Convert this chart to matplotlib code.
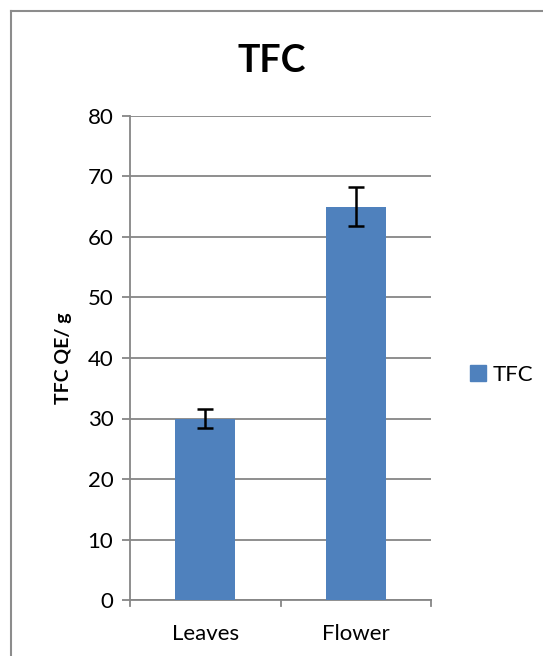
import matplotlib
matplotlib.use("Agg")
import matplotlib.pyplot as plt
from matplotlib.lines import Line2D

plt.rcParams['font.family'] = ['Lato', 'DejaVu Sans']

categories = ["Leaves", "Flower"]
values = [30.0, 65.0]
errors = [1.5, 3.2]
series_name = "TFC"
title = "TFC"
ylabel = "TFC QE/ g"
yticks = [0, 10, 20, 30, 40, 50, 60, 70, 80]

W, H = 543, 656
fig = plt.figure(figsize=(W/100, H/100), dpi=100)
fig.patch.set_facecolor("white")

# plot area in pixels: x 130..431, y 116..600
ax = fig.add_axes([130/W, 1-600/H, (431-130)/W, (600-116)/H])
grid_c = "#868686"
x = list(range(len(categories)))
ax.bar(x, values, width=0.4, color="#4F81BD", zorder=3, label=series_name)
ax.errorbar(x, values, yerr=errors, fmt="none", ecolor="black", elinewidth=1.8,
            capsize=6, capthick=1.8, zorder=4)
ax.set_xlim(-0.5, len(categories)-0.5)
ax.set_ylim(0, 80)
ax.set_yticks(yticks)
ax.set_yticklabels([str(t) for t in yticks], fontsize=16)
ax.set_xticks(x)
ax.set_xticklabels(categories, fontsize=16)
ax.yaxis.grid(True, color=grid_c, linewidth=1.3, zorder=0)
ax.set_axisbelow(True)
for s in ["top", "right"]:
    ax.spines[s].set_visible(False)
for s in ["left", "bottom"]:
    ax.spines[s].set_color(grid_c)
    ax.spines[s].set_linewidth(1.3)
ax.tick_params(axis="y", length=6, color=grid_c, width=1.3, pad=6, direction="out")
ax.tick_params(axis="x", length=0, pad=17)
# category boundary tick marks on x
for b in [-0.5, 0.5, 1.5]:
    ax.plot([b, b], [0, -1.0], color=grid_c, linewidth=1.3, clip_on=False, zorder=5)

fig.text(272/W, 1-61/H, title, ha="center", va="center", fontsize=27, fontweight="bold")
fig.text(64/W, 1-358/H, ylabel, ha="center", va="center", rotation=90,
         fontsize=14, fontweight="bold")

handles = [plt.Rectangle((0, 0), 1, 1, color="#4F81BD")]
leg = fig.legend(handles, [series_name], loc="center left",
                 bbox_to_anchor=(470/W, 1-375/H), frameon=False, fontsize=16,
                 handlelength=0.7, handleheight=0.7, handletextpad=0.3,
                 borderpad=0, borderaxespad=0)

# partial outer frame (left and top)
fig.add_artist(Line2D([11/W, 11/W], [0, 1-11/H], transform=fig.transFigure,
                      color="#8c8c8c", linewidth=1.5))
fig.add_artist(Line2D([11/W, 1], [1-11/H, 1-11/H], transform=fig.transFigure,
                      color="#8c8c8c", linewidth=1.5))

fig.savefig("out.png", dpi=100, facecolor="white")
